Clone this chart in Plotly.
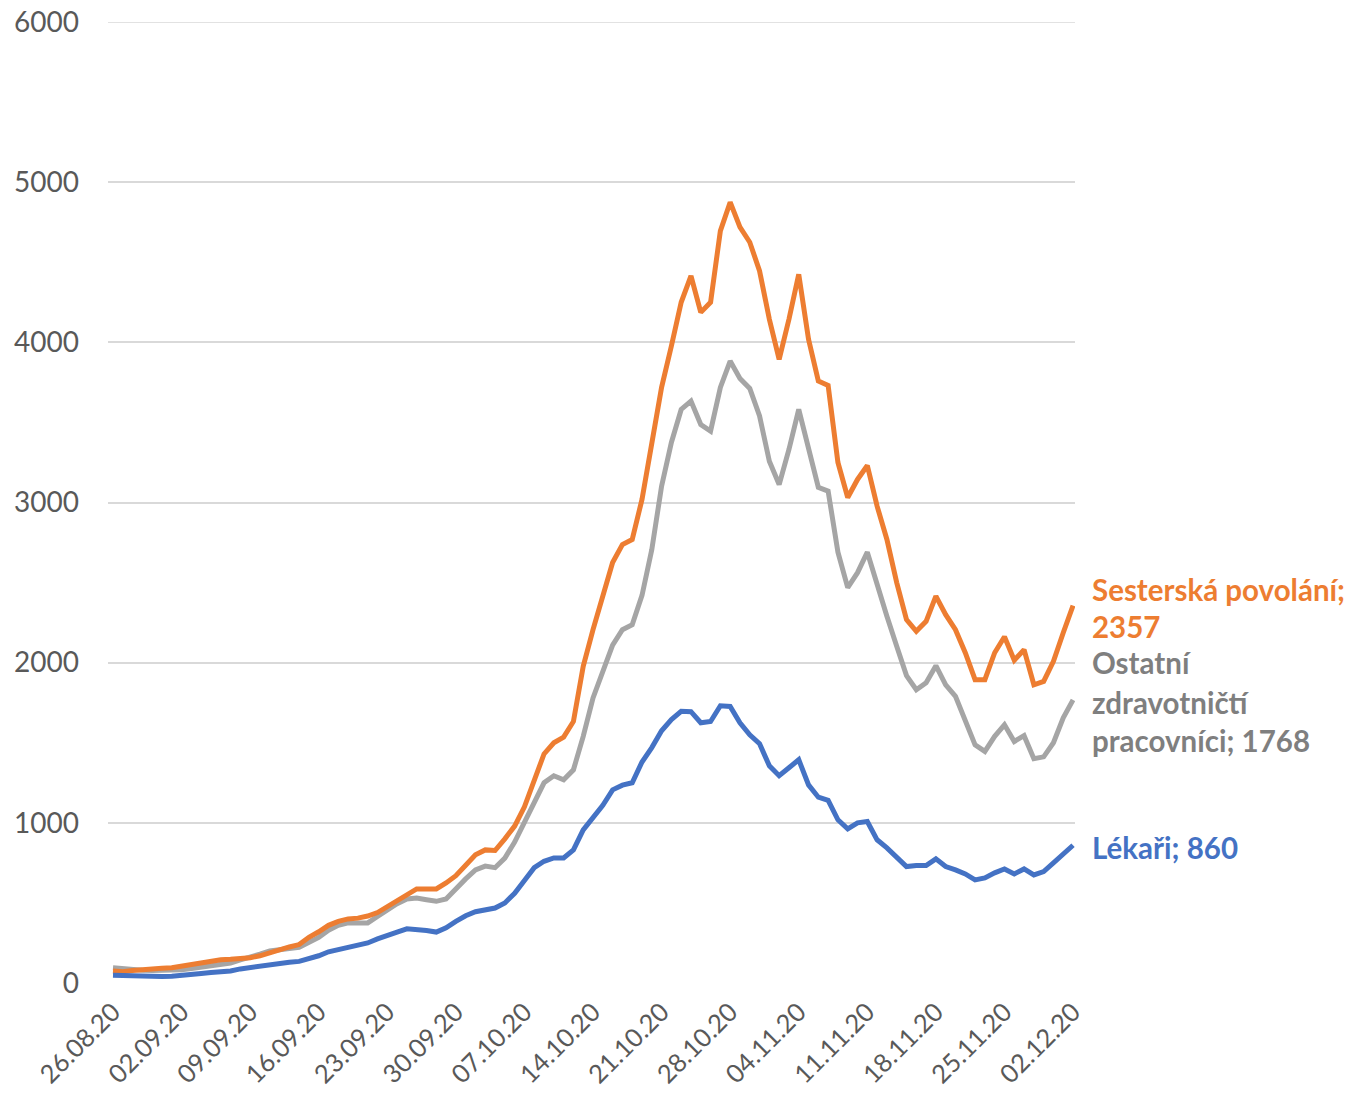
import pandas as pd
import plotly.graph_objects as go

# Daily dates 26.08.2020 - 02.12.2020
dates = pd.date_range("2020-08-26", "2020-12-02", freq="D").strftime("%d.%m.%y").tolist()
tick_labels = ["26.08.20", "02.09.20", "09.09.20", "16.09.20", "23.09.20", "30.09.20",
               "07.10.20", "14.10.20", "21.10.20", "28.10.20", "04.11.20", "11.11.20",
               "18.11.20", "25.11.20", "02.12.20"]

sesterska = [75, 70, 78, 85, 90, 92, 95, 105, 118, 128, 138, 145, 148, 150, 158, 170, 190, 205, 225, 240,
             285, 320, 360, 385, 400, 405, 418, 440, 475, 515, 550, 587, 587, 587, 625, 670, 735, 800, 831, 827,
             900, 980, 1100, 1260, 1430, 1500, 1535, 1633, 1977, 2206, 2415, 2625, 2737, 2769, 3019, 3375, 3719, 3977, 4250, 4415,
             4187, 4250, 4696, 4875, 4719, 4625, 4446, 4144, 3894, 4144, 4425, 4019, 3758, 3731, 3250, 3031, 3144, 3231, 2977, 2769,
             2500, 2269, 2196, 2258, 2415, 2300, 2206, 2062, 1894, 1894, 2062, 2162, 2015, 2081, 1862, 1883, 2008, 2187, 2357]

ostatni = [95, 88, 80, 80, 78, 78, 80, 82, 90, 100, 108, 115, 125, 145, 160, 180, 200, 210, 215, 222,
           255, 285, 330, 360, 375, 378, 375, 415, 455, 495, 525, 531, 520, 510, 525, 590, 650, 706, 730, 720,
           780, 880, 1000, 1130, 1250, 1294, 1269, 1331, 1540, 1780, 1950, 2110, 2206, 2237, 2420, 2706, 3102, 3375, 3581, 3633,
           3487, 3446, 3719, 3883, 3775, 3712, 3540, 3258, 3112, 3331, 3581, 3331, 3094, 3071, 2690, 2469, 2562, 2690, 2477, 2290,
           2102, 1919, 1831, 1875, 1981, 1862, 1790, 1644, 1487, 1446, 1540, 1612, 1508, 1544, 1400, 1412, 1500, 1656, 1768]

lekari = [48, 45, 42, 40, 40, 40, 42, 50, 55, 60, 65, 68, 75, 88, 97, 107, 117, 125, 130, 135,
          150, 170, 195, 210, 228, 235, 250, 275, 300, 318, 338, 335, 328, 318, 345, 385, 420, 445, 458, 468,
          500, 560, 640, 720, 760, 781, 781, 831, 956, 1030, 1110, 1206, 1235, 1250, 1380, 1470, 1575, 1645, 1696, 1694,
          1625, 1633, 1731, 1727, 1625, 1550, 1494, 1356, 1294, 1344, 1394, 1237, 1160, 1140, 1019, 962, 1000, 1008, 894, 844,
          781, 727, 733, 733, 775, 727, 706, 681, 644, 656, 688, 712, 681, 712, 675, 696, 750, 805, 860]

y_ticks = [0, 1000, 2000, 3000, 4000, 5000, 6000]

ORANGE = "#ED7D31"
GRAY = "#A5A5A5"
BLUE = "#4472C4"
LABEL_GRAY = "#7F7F7F"
FONT = "Lato"

fig = go.Figure()
for name, vals, col in [("Ostatní zdravotničtí pracovníci", ostatni, GRAY),
                        ("Sesterská povolání", sesterska, ORANGE),
                        ("Lékaři", lekari, BLUE)]:
    fig.add_trace(go.Scatter(x=dates, y=vals, mode="lines", name=name,
                             line=dict(color=col, width=5), hoverinfo="x+y+name"))

tickvals = [dates[i] for i in range(0, len(dates), 7)]

fig.update_layout(
    width=1357, height=1094,
    margin=dict(l=108, r=282, t=22, b=111, autoexpand=False),
    paper_bgcolor="white", plot_bgcolor="white",
    showlegend=False,
    font=dict(family=FONT, color="#595959"),
    xaxis=dict(type="category", range=[-0.51, 98.2], tickvals=tickvals, ticktext=tick_labels,
               tickangle=-45, tickfont=dict(size=25.5, color="#595959", family=FONT),
               showgrid=False, zeroline=False, showline=False, ticks="", ticklen=0,
               ticklabelstandoff=8, automargin=False),
    yaxis=dict(range=[0, 6000], tickvals=y_ticks, tickfont=dict(size=28, color="#595959", family=FONT),
               showgrid=True, gridcolor="#D9D9D9", gridwidth=1.5, zeroline=False, showline=False,
               ticks="", ticklabelstandoff=28, automargin=False),
)

# explicit top gridline at 6000 (edge gridlines may be suppressed)
fig.add_shape(type="line", xref="paper", x0=0, x1=1, yref="y", y0=6000, y1=6000,
              line=dict(color="#D9D9D9", width=1.5), layer="below")

def label(text, yval, col):
    fig.add_annotation(x=1.0155, xref="paper", y=yval, yref="y", text=text, showarrow=False,
                       xanchor="left", yanchor="middle",
                       font=dict(size=29.5, color=col, family=FONT, weight="bold"))

label("Sesterská povolání;", 2456, ORANGE)
label("2357", 2225, ORANGE)
label("Ostatní", 2000, LABEL_GRAY)
label("zdravotničtí", 1750, LABEL_GRAY)
label("pracovníci; 1768", 1512, LABEL_GRAY)
label("Lékaři; 860", 844, BLUE)

fig.write_html("out.html", config={"displayModeBar": False},
               post_script="document.body.style.margin='0';document.body.style.overflow='hidden';")
